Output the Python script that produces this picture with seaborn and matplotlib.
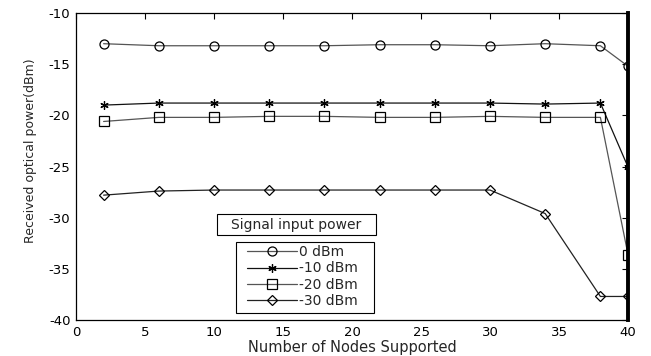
import matplotlib
matplotlib.use("Agg")
import matplotlib.pyplot as plt
from matplotlib.patches import Rectangle
import seaborn as sns

nodes = [2, 6, 10, 14, 18, 22, 26, 30, 34, 38, 40]
p0 = [-13.0, -13.2, -13.2, -13.2, -13.2, -13.1, -13.1, -13.2, -13.0, -13.2, -15.2]
p10 = [-19.0, -18.8, -18.8, -18.8, -18.8, -18.8, -18.8, -18.8, -18.9, -18.8, -25.05]
p20 = [-20.6, -20.2, -20.2, -20.1, -20.1, -20.2, -20.2, -20.1, -20.2, -20.2, -33.6]
p30 = [-27.8, -27.4, -27.3, -27.3, -27.3, -27.3, -27.3, -27.3, -29.6, -37.7, -37.7]
labels = ["0 dBm", "-10 dBm", "-20 dBm", "-30 dBm"]
legend_title = "Signal input power"
xticks = [0, 5, 10, 15, 20, 25, 30, 35, 40]
yticks = [-40, -35, -30, -25, -20, -15, -10]

sns.set_style("white")
plt.rcParams['font.family'] = ['DejaVu Sans']
plt.rcParams['axes.unicode_minus'] = False

W, H = 651, 356
fig = plt.figure(figsize=(W/100, H/100), dpi=100)
L, R, T, B = 76, 628, 13, 320
ax = fig.add_axes([L/W, (H-B)/H, (R-L)/W, (B-T)/H])

def ax_frac(px, py):
    return ((px - L) / (R - L), (B - py) / (B - T))

series = [p0, p10, p20, p30]
markers = ['o', (6, 2, 0), 's', 'D']
msizes = [6.5, 6, 6.5, 5.5]
lcolors = ['#555555', '#111111', '#555555', '#222222']
for vals, lab, mk, ms, lc in zip(series, labels, markers, msizes, lcolors):
    sns.lineplot(x=nodes, y=vals, ax=ax, color=lc, linewidth=0.9,
                 marker=mk, markersize=ms, markerfacecolor='none',
                 markeredgecolor='black', markeredgewidth=0.9, label=lab)

ax.set_xlim(0, 40)
ax.set_ylim(-40, -10)
ax.set_xticks(xticks)
ax.set_yticks(yticks)
ax.tick_params(direction='in', length=4, width=0.8, top=True, right=True,
               labelsize=9.5, colors='black', pad=4)
for s in ax.spines.values():
    s.set_color('black')
    s.set_linewidth(0.9)
    s.set_visible(True)
ax.spines['right'].set_linewidth(2.8)

ax.set_xlabel("Number of Nodes Supported", fontsize=10.5, labelpad=1)
ax.set_ylabel("Received optical power(dBm)", fontsize=9)
ax.yaxis.set_label_coords(-0.0707, 0.55)

# legend entries (frame drawn separately)
leg = ax.legend(loc='upper left', bbox_to_anchor=ax_frac(247, 245),
                fontsize=10, frameon=False, handlelength=3.6,
                borderpad=0, labelspacing=0.17, handletextpad=0.15,
                borderaxespad=0)

x0, y0 = ax_frac(236, 313)
x1, y1 = ax_frac(374, 242)
ax.add_patch(Rectangle((x0, y0), x1 - x0, y1 - y0, transform=ax.transAxes,
                       facecolor='white', edgecolor='black', linewidth=0.8,
                       zorder=4))
leg.set_zorder(5)

tx0, ty0 = ax_frac(217, 235)
tx1, ty1 = ax_frac(376, 214)
ax.add_patch(Rectangle((tx0, ty0), tx1 - tx0, ty1 - ty0, transform=ax.transAxes,
                       facecolor='white', edgecolor='black', linewidth=0.8,
                       zorder=4))
cx, cy = ax_frac(296.5, 225)
ax.text(cx, cy, legend_title, transform=ax.transAxes, ha='center', va='center',
        fontsize=10, zorder=6)

fig.savefig("out.png", dpi=100)
